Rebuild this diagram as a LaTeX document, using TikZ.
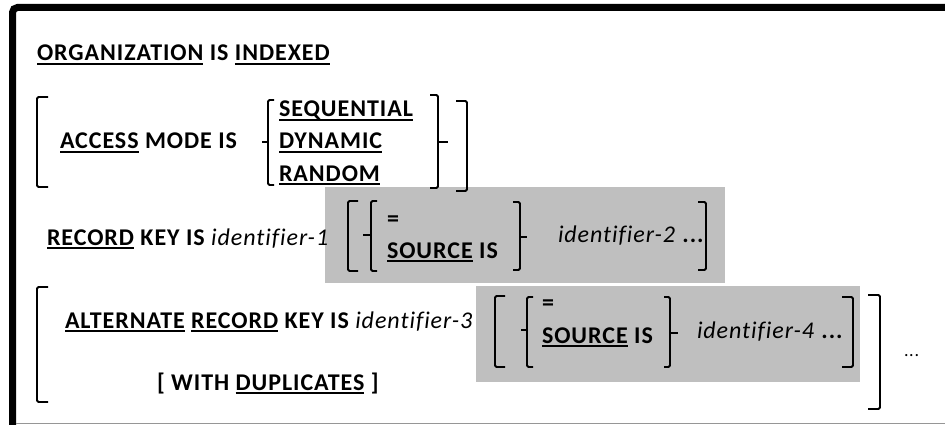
\documentclass[tikz,border=0pt]{standalone}
\usepackage{fontspec}
\setmainfont{Carlito}[LetterSpace=4, Ligatures=CommonOff]
\definecolor{boxgrey}{RGB}{191,191,191}
\definecolor{framegrey}{RGB}{150,150,150}
\newcommand\ulw[1]{\setbox0\hbox{#1}\rlap{\rule[-4pt]{\wd0}{1.9pt}}\box0\relax}
\newcommand\sqbr[4]{\draw[brk] (#4,-#2) -- (#1,-#2) -- (#1,-#3) -- (#4,-#3);}
\newcommand\cubr[6]{\draw[brk] (#4,-#2) -- (#1,-#2) -- (#1,-#3) -- (#4,-#3); \draw[brk] (#1,-#6) -- (#5,-#6);}
\tikzset{
  txt/.style={inner sep=0pt, outer sep=0pt, anchor=base west, font=\fontsize{24}{28}\selectfont\bfseries},
  brk/.style={line width=1.8pt, rounded corners=1.5pt},
  greybox/.style={fill=boxgrey, draw=none},
}
\begin{document}
\begin{tikzpicture}[x=1pt,y=1pt]
\useasboundingbox (0,0) rectangle (945,-425);
% frame
\draw[line width=7pt, rounded corners=5pt] (12.5,-430) -- (12.5,-7.5) -- (950,-7.5);
\draw[framegrey, line width=1.5pt] (16,-423.5) -- (950,-423.5);
% grey boxes
\fill[greybox] (325,-187) rectangle (725,-283);
\fill[greybox] (476,-286) rectangle (860,-382);
% line 1
\node[txt] (org) at (37,-61) {\ulw{ORGANIZATION} IS \ulw{INDEXED}};
% line 2
\sqbr{37}{97}{187}{48}
\node[txt] (acc) at (60,-149) {\ulw{ACCESS} MODE IS};
\cubr{268}{100}{185}{274}{262}{142}
\node[txt] (seq) at (279,-117) {\ulw{SEQUENTIAL}};
\node[txt] (dyn) at (279,-149) {\ulw{DYNAMIC}};
\node[txt] (ran) at (279,-181) {\ulw{RANDOM}};
\cubr{438}{95}{188}{430}{448}{142}
\sqbr{467}{101}{191}{456}
% line 3
\node[txt] (rec) at (47,-245) {\ulw{RECORD} KEY IS \textit{\mdseries identifier-1}};
\sqbr{348}{201}{271}{358}
\cubr{371}{201}{271}{377}{363}{235}
\node[txt] (eq1) at (387,-226) {=};
\node[txt] (src1) at (387,-258) {\ulw{SOURCE} IS};
\cubr{520}{202}{270}{513}{527}{237}
\node[txt] (id2) at (558,-242) {\textit{\mdseries identifier-2} ...};
\sqbr{706}{202}{270}{698}
% line 4
\sqbr{37}{287}{402}{48}
\node[txt] (alt) at (65,-328) {\ulw{ALTERNATE} \ulw{RECORD} KEY IS \textit{\mdseries identifier-3}};
\node[txt] (dup) at (157,-390) {[ WITH \ulw{DUPLICATES} ]};
\sqbr{495}{296}{367}{505}
\cubr{527}{297}{367}{533}{521}{330}
\node[txt] (eq2) at (542,-310) {=};
\node[txt] (src2) at (542,-343) {\ulw{SOURCE} IS};
\cubr{670}{297}{367}{664}{678}{333}
\node[txt] (id4) at (697,-338) {\textit{\mdseries identifier-4} ...};
\sqbr{853}{297}{367}{842}
\sqbr{880}{295}{409}{868}
\node[txt, font=\fontsize{18}{22}\selectfont] (dots) at (904,-356) {...};
\end{tikzpicture}
\end{document}
